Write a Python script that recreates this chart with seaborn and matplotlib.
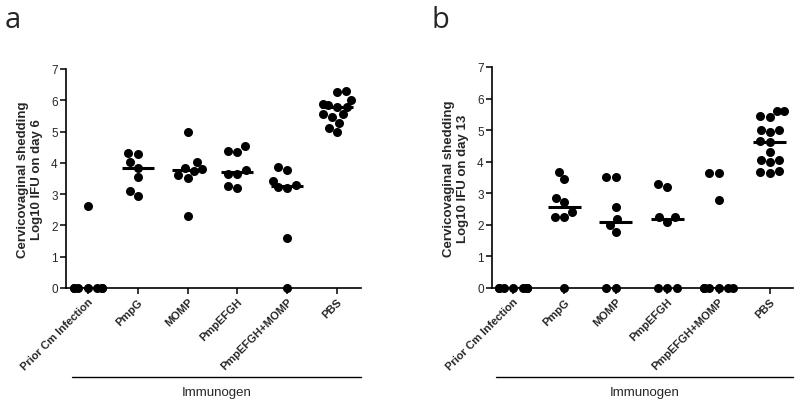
import warnings
import numpy as np
import pandas as pd
import seaborn as sns
import matplotlib.pyplot as plt
from matplotlib.lines import Line2D
from seaborn import categorical

warnings.filterwarnings("ignore")

# Immunogen groups (x-axis categories)
GROUPS = ["Prior Cm Infection", "PmpG", "MOMP", "PmpEFGH", "PmpEFGH+MOMP", "PBS"]

# Panel a: shedding on day 6 (log10 IFU)
day6_prior = [2.62, 0, 0, 0, 0, 0, 0, 0]
day6_pmpg = [4.33, 4.29, 4.02, 3.85, 3.56, 3.10, 2.93]
day6_momp = [5.00, 4.02, 3.82, 3.80, 3.75, 3.60, 3.53, 2.31]
day6_pmpefgh = [4.53, 4.39, 4.36, 3.77, 3.64, 3.64, 3.27, 3.19]
day6_combo = [3.86, 3.77, 3.43, 3.30, 3.22, 3.20, 1.59, 0]
day6_pbs = [6.30, 6.25, 6.02, 5.88, 5.85, 5.80, 5.78, 5.57, 5.55, 5.45, 5.28, 5.13, 5.00]

# Panel b: shedding on day 13 (log10 IFU)
day13_prior = [0, 0, 0, 0, 0, 0, 0, 0]
day13_pmpg = [3.67, 3.44, 2.84, 2.72, 2.42, 2.25, 2.25, 0]
day13_momp = [3.52, 3.52, 2.58, 2.20, 2.00, 1.78, 0, 0]
day13_pmpefgh = [3.30, 3.20, 2.25, 2.25, 2.10, 0, 0, 0]
day13_combo = [3.63, 3.63, 2.78, 0, 0, 0, 0, 0, 0]
day13_pbs = [5.60, 5.60, 5.45, 5.42, 5.00, 5.00, 4.95, 4.65, 4.62, 4.30,
             4.05, 4.05, 4.00, 3.72, 3.68, 3.65]

Y_TICKS = [0, 1, 2, 3, 4, 5, 6, 7]

# narrower swarm gutter so crowded zero values pile up like the original
_orig_bs_init = categorical.Beeswarm.__init__


def _narrow_bs_init(self, orient="x", width=0.8, warn_thresh=.05):
    _orig_bs_init(self, orient=orient, width=width * 0.7, warn_thresh=warn_thresh)


categorical.Beeswarm.__init__ = _narrow_bs_init


def to_frame(columns):
    rows = []
    for grp, vals in zip(GROUPS, columns):
        for v in vals:
            rows.append([grp, v])
    return pd.DataFrame(rows, columns=["Immunogen", "Log10 IFU"])


sns.set_theme(style="ticks")
plt.rcParams["font.family"] = ["Liberation Sans", "DejaVu Sans"]

fig = plt.figure(figsize=(8, 4.06), dpi=100)
ax_a = fig.add_axes([66 / 800, 1 - 289 / 406, (361 - 66) / 800, (289 - 70) / 406])
ax_b = fig.add_axes([492 / 800, 1 - 289 / 406, (793 - 492) / 800, (289 - 68) / 406])

panels = [
    (ax_a, to_frame([day6_prior, day6_pmpg, day6_momp, day6_pmpefgh, day6_combo, day6_pbs]),
     "Cervicovaginal shedding\nLog10 IFU on day 6", (-0.44, 5.48), 72),
    (ax_b, to_frame([day13_prior, day13_pmpg, day13_momp, day13_pmpefgh, day13_combo, day13_pbs]),
     "Cervicovaginal shedding\nLog10 IFU on day 13", (-0.41, 5.45), 496),
]

for ax, df, ylab, xlim, line_x0 in panels:
    sns.swarmplot(data=df, x="Immunogen", y="Log10 IFU", order=GROUPS, color="black",
                  size=6.5, ax=ax, clip_on=False, zorder=3)
    sns.boxplot(data=df, x="Immunogen", y="Log10 IFU", order=GROUPS, width=0.64,
                showbox=False, showcaps=False, showfliers=False,
                whiskerprops={"visible": False},
                medianprops={"color": "black", "linewidth": 2.2},
                ax=ax, zorder=4)
    ax.set_ylim(0, 7)
    ax.set_xlim(*xlim)
    ax.set_yticks(Y_TICKS)
    ax.set_yticklabels([str(t) for t in Y_TICKS], fontsize=8.5)
    ax.set_xticks(range(len(GROUPS)))
    ax.set_xticklabels(GROUPS, rotation=45, ha="right", rotation_mode="anchor",
                       fontsize=8, fontweight="bold")
    ax.set_xlabel("")
    ax.set_ylabel(ylab, fontsize=9.5, fontweight="bold", labelpad=6)
    ax.tick_params(axis="both", direction="out", length=4, width=1.1, color="black", pad=2)
    sns.despine(ax=ax)
    for sp in ["left", "bottom"]:
        ax.spines[sp].set_color("black")
        ax.spines[sp].set_linewidth(1.2)

    # group bracket line with "Immunogen" caption below the tick labels
    right = ax.get_position().x1
    y_line = 1 - 378 / 406
    fig.add_artist(Line2D([line_x0 / 800, right], [y_line, y_line],
                          transform=fig.transFigure, color="black", linewidth=1.0))
    fig.text((line_x0 / 800 + right) / 2, 1 - 393 / 406, "Immunogen",
             ha="center", va="center", fontsize=9.5)

fig.text(5 / 800, 1 - 20 / 406, "a", fontsize=21, family="Open Sans", va="center")
fig.text(432 / 800, 1 - 20 / 406, "b", fontsize=21, family="Open Sans", va="center")

fig.savefig("out.png", dpi=100)
